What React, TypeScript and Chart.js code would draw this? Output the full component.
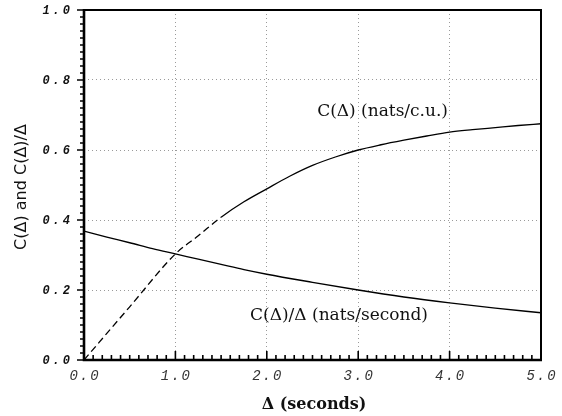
import { useEffect, useRef } from "react";
import { Chart, registerables } from "chart.js";
Chart.register(...registerables);

// Δ (seconds) and C(Δ) (nats/c.u.)
const deltaC = [0, 0.5, 1.0, 1.25, 1.5, 1.75, 2.0, 2.25, 2.5, 2.75, 3.0, 3.25, 3.5, 3.75, 4.0, 4.25, 4.5, 4.75, 5.0];
const capacity = [0, 0.152, 0.303, 0.355, 0.408, 0.452, 0.489, 0.525, 0.556, 0.58, 0.6, 0.615, 0.628, 0.64, 0.651, 0.658, 0.664, 0.67, 0.675];
// Δ (seconds) and C(Δ)/Δ (nats/second)
const deltaR = [0, 0.25, 0.5, 0.75, 1.0, 1.25, 1.5, 1.75, 2.0, 2.5, 3.0, 3.5, 4.0, 4.5, 5.0];
const rate = [0.368, 0.351, 0.335, 0.318, 0.303, 0.288, 0.273, 0.258, 0.245, 0.222, 0.2, 0.18, 0.163, 0.148, 0.135];

const xTickValues = [0, 1, 2, 3, 4, 5];
const yTickValues = [0, 0.2, 0.4, 0.6, 0.8, 1.0];
const xTitle = "Δ (seconds)";
const yTitle = "C(Δ) and C(Δ)/Δ";
const labelC = "C(Δ) (nats/c.u.)";
const labelR = "C(Δ)/Δ (nats/second)";

function drawSpaced(ctx: CanvasRenderingContext2D, text: string, x: number, y: number, spacing: number, align: "left" | "center" | "right") {
  ctx.letterSpacing = spacing + "px";
  const w = ctx.measureText(text).width - spacing;
  let sx = x;
  if (align === "center") sx = x - w / 2;
  if (align === "right") sx = x - w;
  ctx.textAlign = "left";
  ctx.fillText(text, sx, y);
  ctx.letterSpacing = "0px";
}

const decor = {
  id: "decor",
  afterDraw(chart: any) {
    const { ctx, chartArea, scales } = chart;
    const { left, right, top, bottom } = chartArea;
    const x = scales.x;
    const y = scales.y;
    ctx.save();
    ctx.strokeStyle = "#000";
    ctx.lineCap = "butt";
    // frame
    ctx.lineWidth = 2;
    ctx.beginPath();
    ctx.moveTo(left, top);
    ctx.lineTo(right, top);
    ctx.lineTo(right, bottom);
    ctx.stroke();
    ctx.lineWidth = 2.6;
    ctx.beginPath();
    ctx.moveTo(left, top - 1);
    ctx.lineTo(left, bottom);
    ctx.lineTo(right + 1, bottom);
    ctx.stroke();
    // x minor/major ticks (inward)
    ctx.lineWidth = 1.6;
    ctx.beginPath();
    for (let i = 0; i <= 50; i++) {
      const px = x.getPixelForValue(i / 10);
      const len = i % 10 === 0 ? 9 : 5;
      ctx.moveTo(px, bottom);
      ctx.lineTo(px, bottom - len);
    }
    ctx.stroke();
    // y minor/major ticks (outward)
    ctx.beginPath();
    for (let i = 0; i <= 50; i++) {
      const py = y.getPixelForValue(i / 50);
      const len = i % 10 === 0 ? 7 : 4;
      ctx.moveTo(left + 1, py);
      ctx.lineTo(left - len, py);
    }
    ctx.stroke();
    // tick labels
    ctx.fillStyle = "#111";
    ctx.textBaseline = "middle";
    ctx.font = 'italic bold 12px "Liberation Mono"';
    yTickValues.forEach((v) => {
      drawSpaced(ctx, v.toFixed(1), 70, y.getPixelForValue(v) + 1, 3, "right");
    });
    ctx.fillStyle = "#333";
    ctx.font = 'italic 14px "Liberation Mono"';
    xTickValues.forEach((v) => {
      drawSpaced(ctx, v.toFixed(1), x.getPixelForValue(v), 376, 2, "center");
    });
    // axis titles
    ctx.fillStyle = "#111";
    ctx.font = 'bold 16px "DejaVu Serif"';
    ctx.textAlign = "center";
    ctx.fillText(xTitle, 314, 405);
    ctx.save();
    ctx.translate(22, 187);
    ctx.rotate(-Math.PI / 2);
    ctx.font = '16px "DejaVu Sans"';
    ctx.fillText(yTitle, 0, 0);
    ctx.restore();
    // curve labels
    ctx.font = '17px "DejaVu Serif"';
    ctx.textAlign = "right";
    ctx.fillText(labelC, 448, 112);
    ctx.fillText(labelR, 428, 316);
    ctx.restore();
  },
};

export default function App() {
  const ref = useRef<HTMLCanvasElement | null>(null);
  useEffect(() => {
    document.body.style.margin = "0";
    const canvas = ref.current;
    if (!canvas) return;
    const chart = new Chart(canvas, {
      type: "line",
      data: {
        datasets: [
          {
            label: labelC,
            data: deltaC.map((d, i) => ({ x: d, y: capacity[i] })),
            borderColor: "#000",
            borderWidth: 1.3,
            pointRadius: 0,
            cubicInterpolationMode: "monotone",
            fill: false,
            segment: {
              borderDash: (c: any) => (c.p1.parsed.x <= 1.5 ? [7, 4] : undefined),
            },
          },
          {
            label: labelR,
            data: deltaR.map((d, i) => ({ x: d, y: rate[i] })),
            borderColor: "#000",
            borderWidth: 1.3,
            pointRadius: 0,
            cubicInterpolationMode: "monotone",
            fill: false,
          },
        ],
      },
      options: {
        animation: false,
        responsive: true,
        maintainAspectRatio: false,
        layout: { padding: { top: 10, right: 21, left: 0, bottom: 0 } },
        plugins: { legend: { display: false }, tooltip: { enabled: false } },
        scales: {
          x: {
            type: "linear",
            min: 0,
            max: 5,
            ticks: { stepSize: 1, display: false },
            grid: {
              drawTicks: false,
              color: (c: any) => (c.tick && (c.tick.value === 0 || c.tick.value === 5) ? "rgba(0,0,0,0)" : "#9a9a9a"),
              lineWidth: 1,
            },
            border: { display: false, dash: [1, 3] },
            afterFit: (s: any) => {
              s.height = 56;
            },
          },
          y: {
            type: "linear",
            min: 0,
            max: 1,
            ticks: { stepSize: 0.2, display: false },
            grid: {
              drawTicks: false,
              color: (c: any) => (c.tick && (c.tick.value === 0 || c.tick.value === 1) ? "rgba(0,0,0,0)" : "#9a9a9a"),
              lineWidth: 1,
            },
            border: { display: false, dash: [1, 3] },
            afterFit: (s: any) => {
              s.width = 84;
            },
          },
        },
      },
      plugins: [decor],
    });
    return () => chart.destroy();
  }, []);
  return (
    <div style={{ width: 562, height: 416, position: "relative", background: "#fff" }}>
      <canvas ref={ref} />
    </div>
  );
}
